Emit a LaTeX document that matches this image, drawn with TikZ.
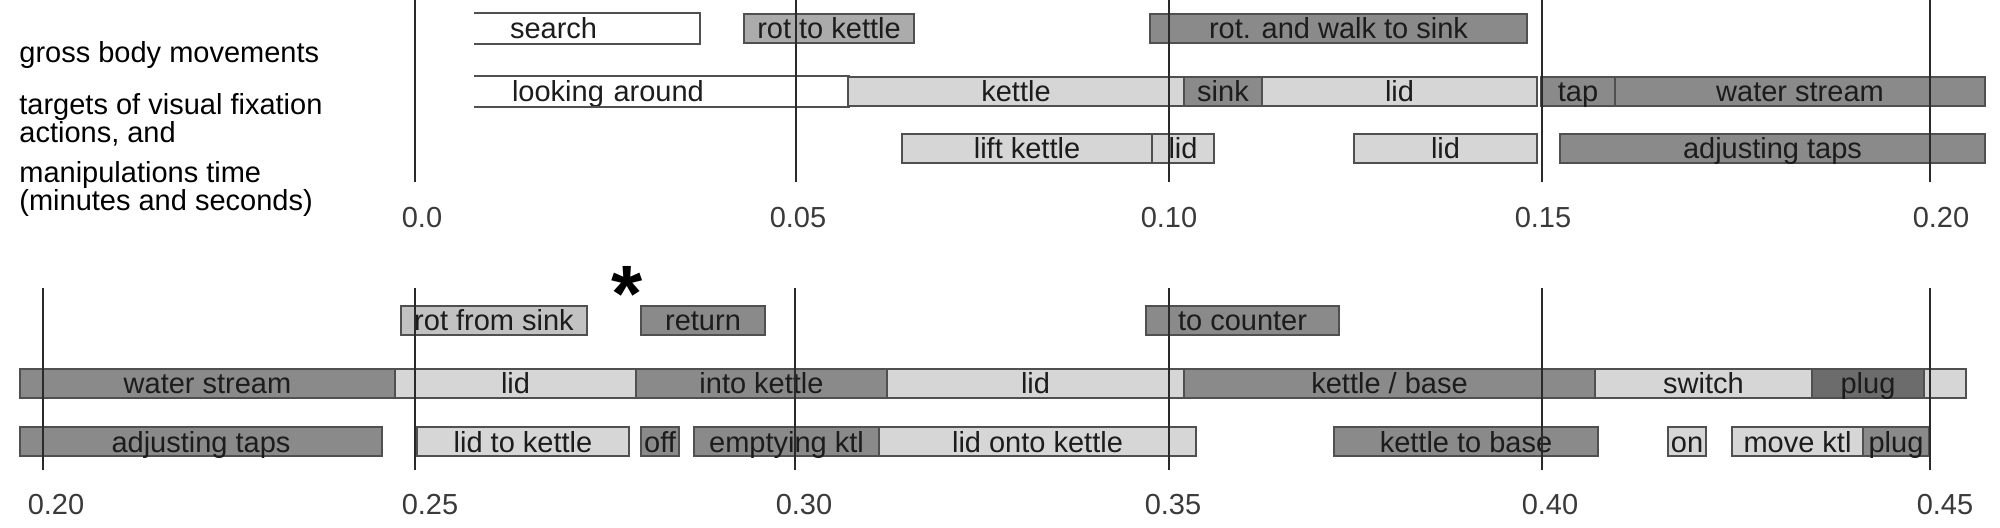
\documentclass[tikz,border=0pt]{standalone}
\usepackage{fontspec}
\setmainfont{Liberation Sans}
\definecolor{lightg}{HTML}{D6D6D6}
\definecolor{midg}{HTML}{ABABAB}
\definecolor{softg}{HTML}{C2C2C2}
\definecolor{darkg}{HTML}{8A8A8A}
\definecolor{xdark}{HTML}{6C6C6C}
\definecolor{bord}{HTML}{505050}
\definecolor{linec}{HTML}{2A2A2A}
\definecolor{txt}{HTML}{1C1C1C}
\definecolor{ticktxt}{HTML}{3A3A3A}
\newcommand\chartfont{\fontsize{14.5}{17}\selectfont}
\newcommand\gb[7][]{\node[gbar,#6,minimum width={(#4-#3)*0.5pt},#1] (#2) at ({(#3+#4)/2},{#5+14.5}) {#7};}
\tikzset{
  gbar/.style={draw=bord, line width=0.8pt, inner sep=0pt, minimum height=14.5pt,
    text height=10.5pt, text depth=0pt, font=\chartfont, text=txt},
  wh/.style={fill=white}, lt/.style={fill=lightg}, md/.style={fill=midg},
  sf/.style={fill=softg}, dk/.style={fill=darkg}, xd/.style={fill=xdark},
  bline/.style={draw=bord, line width=0.8pt},
  tick/.style={draw=linec, line width=0.9pt},
  ticklbl/.style={anchor=base, font=\chartfont, text=ticktxt, inner sep=0pt},
  sidelbl/.style={anchor=base west, font=\chartfont, text=black, inner sep=0pt},
}
\begin{document}
\begin{tikzpicture}[x=0.5pt,y=-0.5pt]
\useasboundingbox[fill=white] (0,0) rectangle (2000,528);

% side labels
\node[sidelbl] (l1) at (19,63) {gross body movements};
\node[sidelbl] (l2) at (19,115) {targets of visual fixation};
\node[sidelbl] (l3) at (19,143) {actions, and};
\node[sidelbl] (l4) at (19,183) {manipulations time};
\node[sidelbl] (l5) at (19,211) {(minutes and seconds)};

% ---------- top panel ----------
\gb[draw=none, inner xsep=17.5pt, text width=77pt, align=left]{search}{475}{699}{14}{wh}{search}
\draw[bline] (search.north west) -- (search.north east) -- (search.south east) -- (search.south west);
\gb{rotk}{744}{914}{14}{md}{rot to kettle}
\gb{rotw}{1150}{1527}{14}{dk}{rot. and walk to sink}

\gb[draw=none, inner xsep=18.5pt, text width=149.5pt, align=left]{look}{475}{848}{77}{wh}{looking around}
\draw[bline] (look.north west) -- (look.north east) -- (look.south east) -- (look.south west);
\gb{kettle}{848}{1184}{77}{lt}{kettle}
\gb{sink}{1184}{1262}{77}{dk}{sink}
\gb{lidA}{1262}{1537}{77}{lt}{lid}
\gb{tap}{1541}{1615}{77}{dk}{tap}
\gb{wsA}{1615}{1985}{77}{dk}{water stream}

\gb{lift}{902}{1152}{134}{lt}{lift kettle}
\gb{lidB}{1152}{1214}{134}{lt}{lid}
\gb{lidC}{1354}{1537}{134}{lt}{lid}
\gb{adjA}{1560}{1985}{134}{dk}{adjusting taps}

\foreach \xx in {415,796,1169,1542,1930} \draw[tick] (\xx,0) -- (\xx,182);
\node[ticklbl] (tA0) at (422,228) {0.0};
\node[ticklbl] (tA1) at (798,228) {0.05};
\node[ticklbl] (tA2) at (1169,228) {0.10};
\node[ticklbl] (tA3) at (1543,228) {0.15};
\node[ticklbl] (tA4) at (1941,228) {0.20};

% ---------- bottom panel ----------
\node[anchor=base, font=\fontsize{40}{40}\selectfont\bfseries, inner sep=0pt] (star) at (627,322) {*};

\gb{rfs}{401}{587}{306}{sf}{rot from sink}
\gb{ret}{641}{765}{306}{dk}{return}
\gb{toc}{1146}{1339}{306}{dk}{to counter}

\gb{wsB}{20}{395}{369}{dk}{water stream}
\gb{lidD}{395}{636}{369}{lt}{lid}
\gb{into}{636}{887}{369}{dk}{into kettle}
\gb{lidE}{887}{1184}{369}{lt}{lid}
\gb{kb}{1184}{1595}{369}{dk}{kettle / base}
\gb{sw}{1595}{1812}{369}{lt}{switch}
\gb{plugA}{1812}{1924}{369}{xd}{plug}
\gb{tail}{1924}{1966}{369}{lt}{}

\gb{adjB}{20}{382}{427}{dk}{adjusting taps}
\gb{ltk}{417}{629}{427}{lt}{lid to kettle}
\gb{off}{641}{679}{427}{dk}{off}
\gb{empt}{694}{879}{427}{dk}{emptying ktl}
\gb{lok}{879}{1196}{427}{lt}{lid onto kettle}
\gb{ktb}{1334}{1598}{427}{dk}{kettle to base}
\gb{on}{1668}{1706}{427}{lt}{on}
\gb{mov}{1732}{1863}{427}{lt}{move ktl}
\gb{plugB}{1863}{1929}{427}{dk}{plug}

\foreach \xx in {43,415,795,1169,1542,1930} \draw[tick] (\xx,288) -- (\xx,470);
\node[ticklbl] (tB0) at (56,514) {0.20};
\node[ticklbl] (tB1) at (430,514) {0.25};
\node[ticklbl] (tB2) at (804,514) {0.30};
\node[ticklbl] (tB3) at (1173,514) {0.35};
\node[ticklbl] (tB4) at (1550,514) {0.40};
\node[ticklbl] (tB5) at (1945,514) {0.45};
\end{tikzpicture}
\end{document}
